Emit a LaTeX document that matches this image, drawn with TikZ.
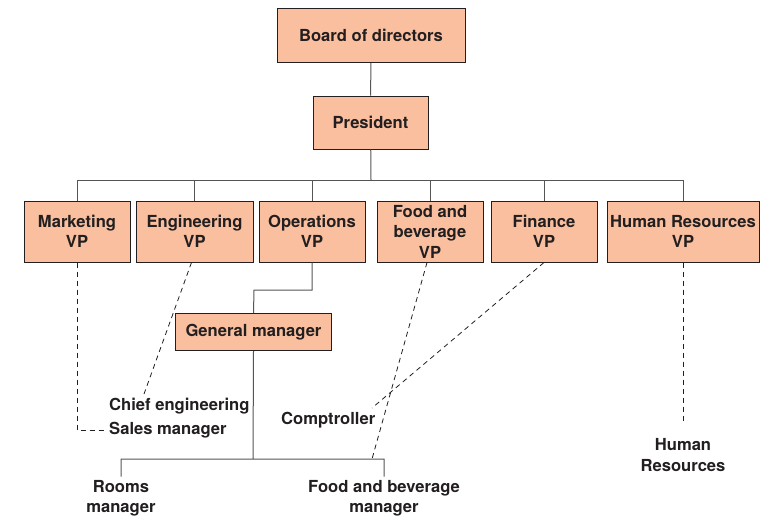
\documentclass[tikz,border=0pt]{standalone}
\usepackage{fontspec}
\setmainfont{TeX Gyre Heros}
\definecolor{boxfill}{HTML}{F9BF9E}
\definecolor{ink}{HTML}{231F20}
\definecolor{wire}{HTML}{555555}
\begin{document}
\begin{tikzpicture}[x=1pt, y=-1pt,
        every node/.style={font=\fontsize{16.6}{20.5}\selectfont\bfseries, text=ink, align=center},
        box/.style={draw=ink, fill=boxfill, line width=1pt, rectangle, inner sep=0pt},
        lbl/.style={inner sep=3pt},
        wireline/.style={draw=wire, line width=1pt},
        dline/.style={draw=ink, line width=0.8pt, dash pattern=on 5pt off 4pt}]
    \useasboundingbox (0,0) rectangle (762,517);
        \node[box, minimum width=188, minimum height=54] (board) at (371,35.5) {Board of directors};
        \node[box, minimum width=115, minimum height=53] (pres) at (370.5,122.5) {President};
        \node[box, minimum width=106, minimum height=61] (mkt) at (77,231.5) {Marketing\\VP};
        \node[box, minimum width=117, minimum height=61] (eng) at (194.5,231.5) {Engineering\\VP};
        \node[box, minimum width=106, minimum height=61] (ops) at (312,231.5) {Operations\\VP};
        \node[box, minimum width=106, minimum height=61] (fnb) at (430,231.5) {Food and\\beverage\\VP};
        \node[box, minimum width=106, minimum height=61] (fin) at (544,231.5) {Finance\\VP};
        \node[box, minimum width=152, minimum height=61] (hr) at (683,231.5) {Human Resources\\VP};
        \node[box, minimum width=156, minimum height=37] (gm) at (253.5,332) {General manager};
        \node[lbl, anchor=west] (chief) at (106,406) {Chief engineering};
        \node[lbl, anchor=west] (sales) at (106,430) {Sales manager};
        \node[lbl, anchor=west] (comp) at (278,420) {Comptroller};
        \node[lbl] (rooms) at (121,498) {Rooms\\manager};
        \node[lbl] (fbm) at (384,498) {Food and beverage\\manager};
        \node[lbl] (hrtext) at (683,455) {Human\\Resources};
        \coordinate (bus) at (371,180);
        \coordinate (opsbend) at (254,290);
        \coordinate (gmbus) at (253,459);
        \coordinate (chiefend) at (144,394);
        \coordinate (compend) at (372,408);
        \coordinate (fnbend) at (372,459);
        \coordinate (hrend) at (683,423);
        \draw[wireline] (board) -- (pres) (pres) -- (bus);
        \foreach \n in {mkt,eng,ops,fnb,fin,hr}
            \draw[wireline] (bus) -| (\n.north);
        \draw[wireline] (ops.south) |- (opsbend) -- (gm.north);
        \draw[wireline] (gm.south) -- (gmbus) (gmbus) -| (rooms.north) (gmbus) -| (fbm.north);
        \draw[dline] (mkt.south) |- (sales.west);
        \draw[dline] ([xshift=-3]eng.south) -- (chiefend);
        \draw[dline] ([xshift=-3]fnb.south) -- (fnbend);
        \draw[dline] (fin.south) -- (compend);
        \draw[dline] (hr.south) -- (hrend);
\end{tikzpicture}
\end{document}
